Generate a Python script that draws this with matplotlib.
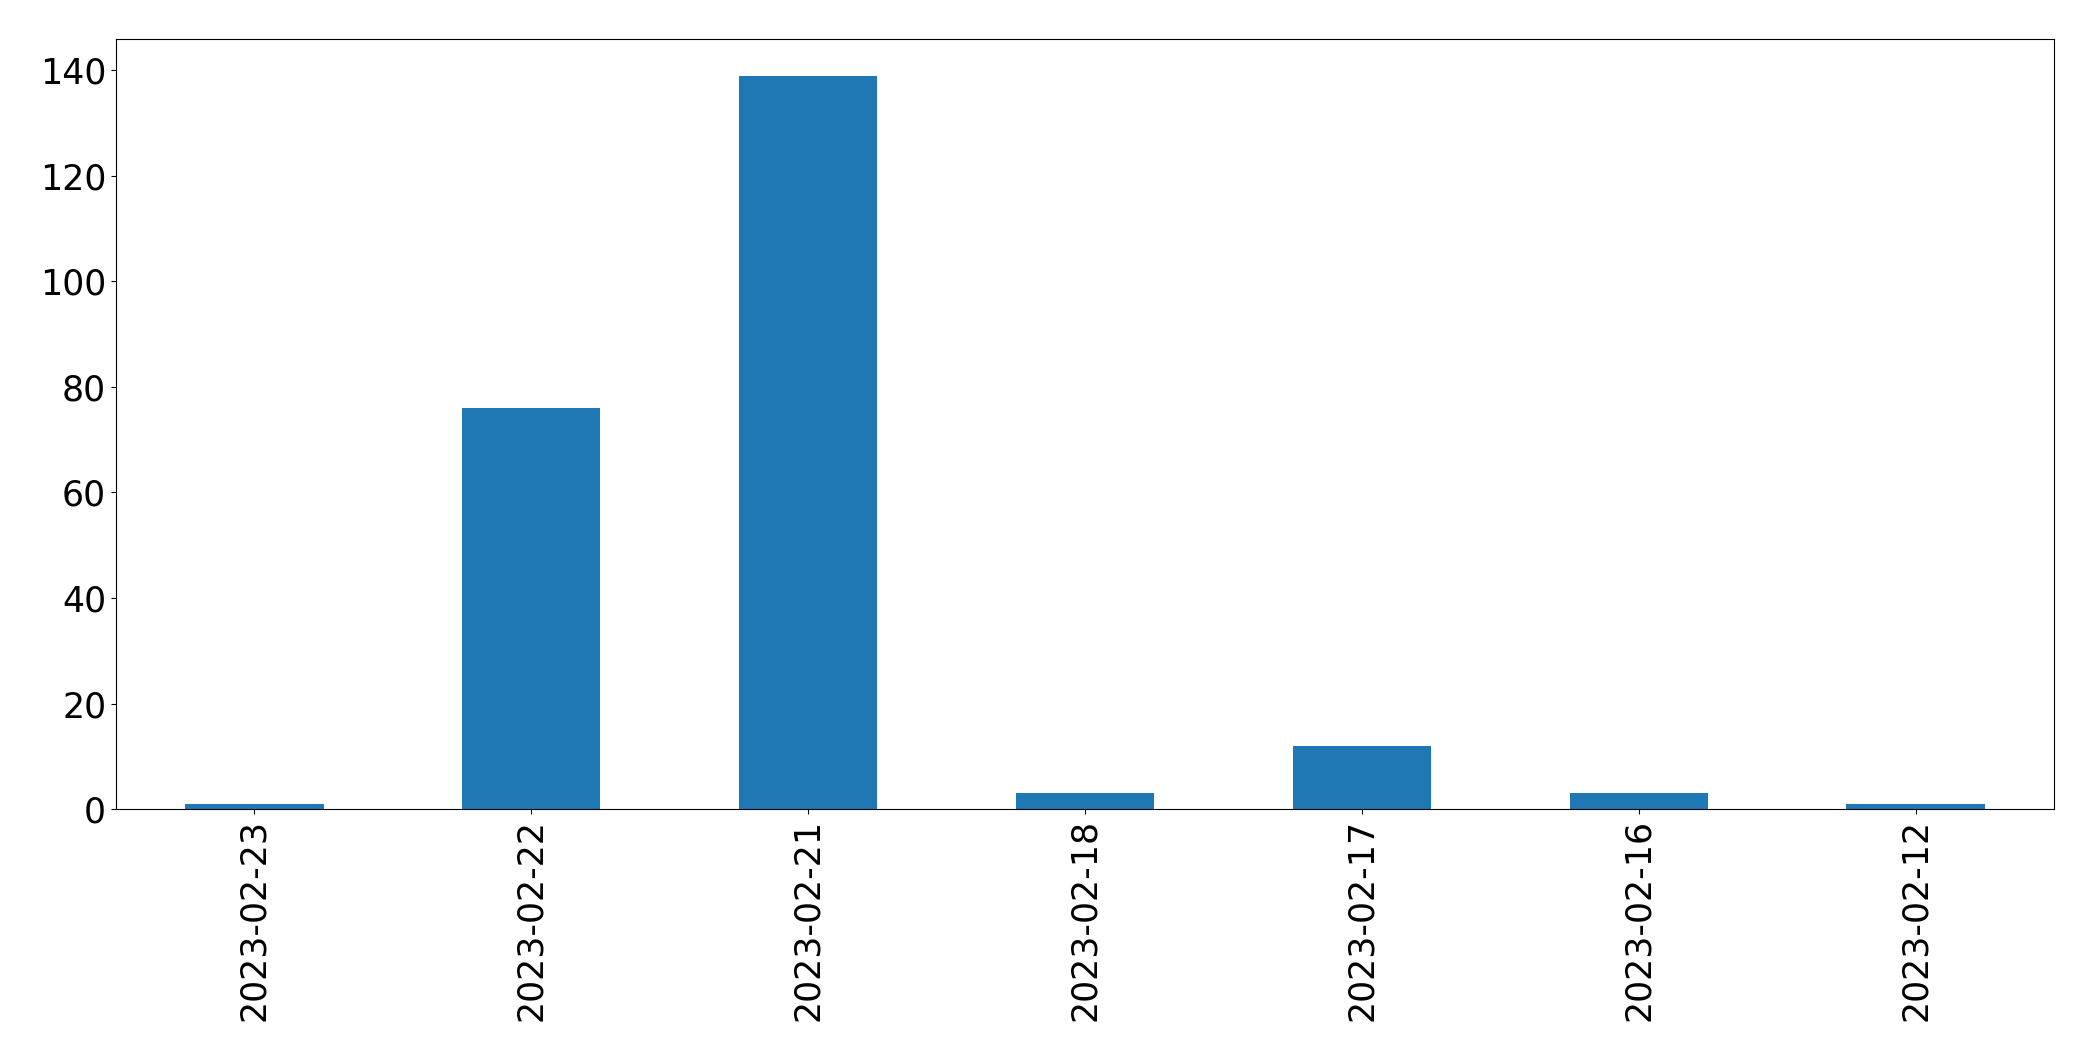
import matplotlib
matplotlib.use("Agg")
import matplotlib.pyplot as plt
import numpy as np

dates = ['2023-02-23', '2023-02-22', '2023-02-21', '2023-02-18',
         '2023-02-17', '2023-02-16', '2023-02-12']
counts = [1, 76, 139, 3, 12, 3, 1]

fig = plt.figure(figsize=(20.93, 10.61), dpi=100)
ax = fig.add_axes([0.0554, 0.2375, 0.926, 0.7257])
x = np.arange(len(dates))
ax.bar(x, counts, width=0.5, color='#1f77b4')
ax.set_xlim(-0.5, len(dates) - 0.5)
ax.set_xticks(x)
ax.set_xticklabels(dates, rotation=90, fontsize=25)
ax.tick_params(axis='y', labelsize=25)

fig.savefig('out.png', dpi=100)
